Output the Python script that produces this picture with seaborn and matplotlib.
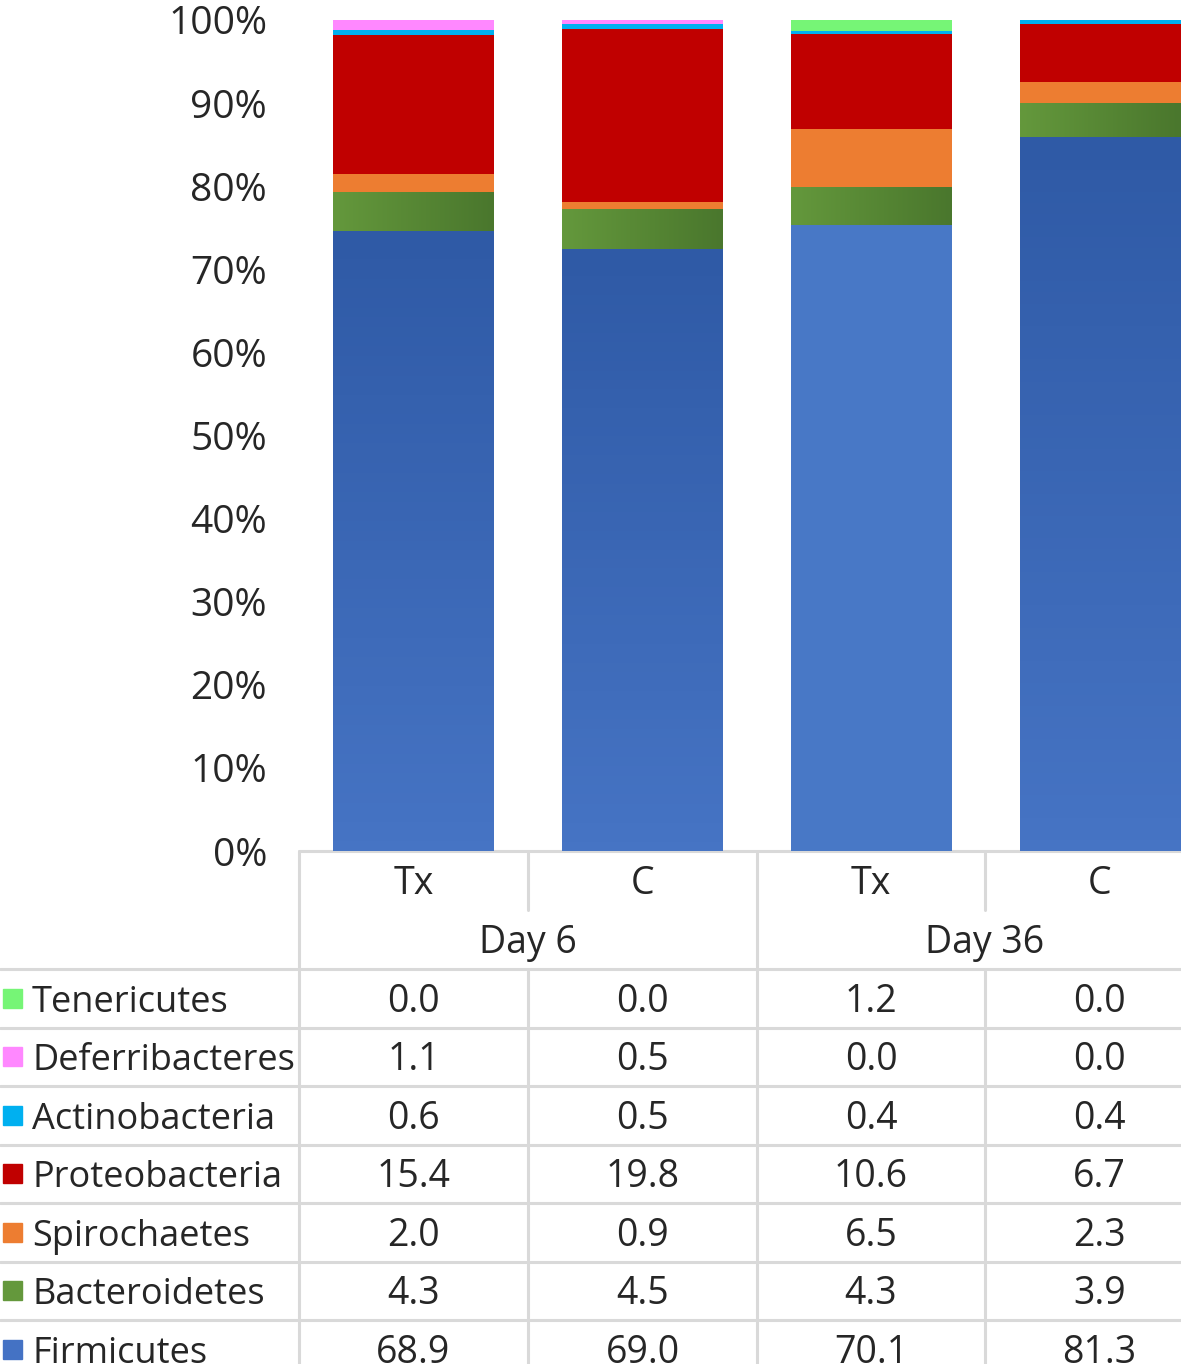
import numpy as np
import pandas as pd
import matplotlib
matplotlib.use('Agg')
import matplotlib.pyplot as plt
from matplotlib.colors import LinearSegmentedColormap
import seaborn as sns

# data (relative abundance, %)
groups = ["Tx", "C", "Tx", "C"]
days = ["Day 6", "Day 36"]
phyla = ["Tenericutes", "Deferribacteres", "Actinobacteria", "Proteobacteria",
         "Spirochaetes", "Bacteroidetes", "Firmicutes"]
tenericutes = [0.0, 0.0, 1.2, 0.0]
deferribacteres = [1.1, 0.5, 0.0, 0.0]
actinobacteria = [0.6, 0.5, 0.4, 0.4]
proteobacteria = [15.4, 19.8, 10.6, 6.7]
spirochaetes = [2.0, 0.9, 6.5, 2.3]
bacteroidetes = [4.3, 4.5, 4.3, 3.9]
firmicutes = [68.9, 69.0, 70.1, 81.3]

colors = ["#76f576", "#ff88ff", "#00b0f0", "#c00000", "#ed7d31", "#64983c", "#4472c4"]

sns.set_theme(style="white")
plt.rcParams["font.family"] = ["Open Sans", "DejaVu Sans"]

W, H = 1181, 1364
fig = plt.figure(figsize=(W / 100, H / 100), dpi=100)

# table axes in pixel coordinates
tax = fig.add_axes([0, 0, 1, 1])
tax.set_xlim(0, W)
tax.set_ylim(H, 0)
tax.axis("off")

ax = fig.add_axes([299 / W, (H - 851) / H, (1215 - 299) / W, (851 - 20) / H])

rows = [tenericutes, deferribacteres, actinobacteria, proteobacteria,
        spirochaetes, bacteroidetes, firmicutes]
vals = np.array(rows)
pct = vals / vals.sum(axis=0) * 100
# cumulative from the bottom (Firmicutes) upward
cum = np.cumsum(pct[::-1], axis=0)[::-1]
xcat = [f"{g} {d}" for d, gg in zip(days, [groups[:2], groups[2:]]) for g in gg]

grad_h = LinearSegmentedColormap.from_list("bact", ["#64983c", "#4a772d"])
grad_v = LinearSegmentedColormap.from_list("firm", ["#4674c4", "#2f5aa6"])

for k, name in enumerate(phyla):
    n0 = len(ax.patches)
    df = pd.DataFrame({"x": xcat, "y": cum[k]})
    sns.barplot(data=df, x="x", y="y", order=xcat, color=colors[k], saturation=1,
                width=0.7, ax=ax, zorder=2 + 2 * k, linewidth=0)
    new = ax.patches[n0:]
    if name == "Bacteroidetes":
        for p in new:
            x0, y0 = p.get_x(), p.get_y()
            im = ax.imshow(np.linspace(0, 1, 64)[None, :], cmap=grad_h, aspect="auto",
                           extent=(x0, x0 + p.get_width(), y0, y0 + p.get_height()),
                           zorder=3 + 2 * k)
            im.set_clip_path(p)
    if name == "Firmicutes":
        for i, p in enumerate(new):
            if i == 2:
                p.set_facecolor("#4878c6")
                continue
            x0, y0 = p.get_x(), p.get_y()
            im = ax.imshow(np.linspace(0, 1, 64)[:, None], cmap=grad_v, aspect="auto",
                           origin="lower",
                           extent=(x0, x0 + p.get_width(), y0, y0 + p.get_height()),
                           zorder=3 + 2 * k)
            im.set_clip_path(p)

ax.set_xlim(-0.5, 3.5)
ax.set_ylim(0, 100)
ax.set_xticks([])
ax.set_xlabel("")
ax.set_ylabel("")
ax.set_yticks(np.arange(0, 101, 10))
ax.set_yticklabels([f"{v}%" for v in range(0, 101, 10)], fontsize=28)
ax.tick_params(axis="y", length=0, pad=23)
for s in ax.spines.values():
    s.set_visible(False)
ax.patch.set_alpha(0)

# table
lc = "#d9d9d9"
lw = 2.2
col_edges = [299, 528, 757, 985, 1214]
col_cent = [(a + b) / 2 for a, b in zip(col_edges[:-1], col_edges[1:])]
row_edges = [969, 1027.5, 1086, 1144.5, 1203, 1261.5, 1320, 1378.5]
tax.plot([299, W], [851, 851], color=lc, lw=lw)
for x in [299, 757]:
    tax.plot([x, x], [851, H], color=lc, lw=lw)
for x in [528, 985]:
    tax.plot([x, x], [851, 910], color=lc, lw=lw)
    tax.plot([x, x], [969, H], color=lc, lw=lw)
for y in row_edges[:-1]:
    tax.plot([0, W], [y, y], color=lc, lw=lw)

fs = 27
for c, g in zip(col_cent, groups):
    tax.text(c, 880 + 13.5, g, ha="center", va="baseline", fontsize=fs)
for c, d in zip([528, 985], days):
    tax.text(c, 939 + 13.5, d, ha="center", va="baseline", fontsize=fs)

for r, name in enumerate(phyla):
    yc = (row_edges[r] + row_edges[r + 1]) / 2
    tax.add_patch(plt.Rectangle((3, yc - 9.5), 19, 19, color=colors[r]))
    tax.text(32, yc + 13.5, name, ha="left", va="baseline", fontsize=26)
    for c, v in zip(col_cent, rows[r]):
        tax.text(c, yc + 13.5, f"{v:.1f}", ha="center", va="baseline", fontsize=fs)

fig.savefig("out.png", dpi=100)
